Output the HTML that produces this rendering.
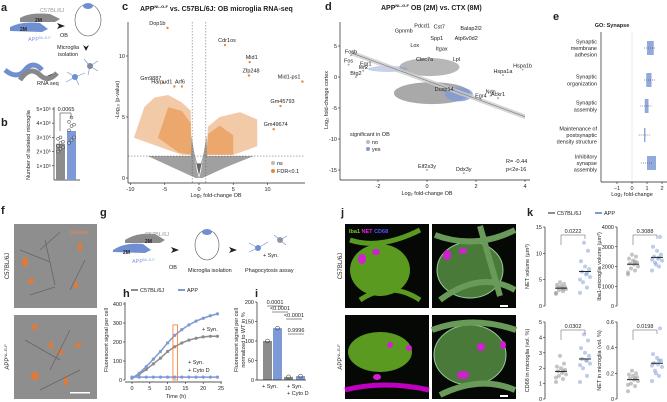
<!DOCTYPE html>
<html><head><meta charset="utf-8"><style>
html,body{margin:0;padding:0;background:#fff;}
svg{display:block;font-family:"Liberation Sans",sans-serif;}
text{fill:#222;}
</style></head><body>
<svg id="fig" width="667" height="402" viewBox="0 0 667 402" xmlns="http://www.w3.org/2000/svg">
<g font-weight="bold" font-size="11">
<text x="1" y="11">a</text><text x="1" y="126">b</text><text x="122" y="10">c</text><text x="325" y="10">d</text>
<text x="553" y="20">e</text><text x="1" y="214">f</text><text x="100" y="216">g</text><text x="123" y="297">h</text>
<text x="255" y="297">i</text><text x="341" y="216">j</text><text x="527" y="216">k</text>
</g>
<g font-size="5.5">
<path d="M20,18 q10,-6 30,-4 l10,5 l-5,3 l-35,0z" fill="#8a8a8a"/>
<text x="40" y="12" fill="#999" style="fill:#999">C57BL/6J</text><text x="35" y="22" font-weight="bold" font-size="5">2M</text>
<path d="M10,27 q12,-6 30,-4 l8,6 l-6,3 l-32,-1z" fill="#6f8fd0"/>
<text x="20" y="31" font-weight="bold" font-size="5">2M</text><text x="28" y="41" style="fill:#7b9be0">APP<tspan font-size="3.5" dy="-2">NL-G-F</tspan></text>
<path d="M57,23 l8,3 l-8,3 l2,-3z" fill="#222"/><text x="60" y="37">OB</text>
<ellipse cx="88" cy="20" rx="13" ry="16" fill="none" stroke="#555" stroke-width="0.6"/><ellipse cx="88" cy="6" rx="5" ry="3" fill="#6f8fd0"/>
<text x="57" y="49">Microglia</text><text x="58" y="56">isolation</text><path d="M83,45 l3,6 l3,-6 l-3,2z" fill="#222"/>
<text x="37" y="85">RNA seq</text><path d="M54,73 l-7,3 l7,3 l-2,-3z" fill="#222"/>
<path d="M5,70 q12,10 20,0 q8,-10 17,0" fill="none" stroke="#6f8fd0" stroke-width="5"/>
<path d="M20,80 q10,-15 20,-5 q8,8 17,-2" fill="none" stroke="#888" stroke-width="5"/>
<circle cx="75" cy="77" r="3" fill="#6f8fd0"/><circle cx="90" cy="66" r="3" fill="#888"/>
<path d="M75,77 l-8,-5 M75,77 l-9,5 M75,77 l4,8 M75,77 l10,-4 M90,66 l8,-5 M90,66 l8,5 M90,66 l-6,-7 M90,66 l-2,9" stroke="#6f8fd0" stroke-width="0.6"/>
</g>
<g id="charts"></g>
<text x="140" y="11" font-size="7" font-weight="bold">APP<tspan font-size="4" dy="-3">NL-G-F</tspan><tspan dy="3"> vs. C57BL/6J: OB microglia RNA-seq</tspan></text>
<text x="381" y="10" font-size="7" font-weight="bold">APP<tspan font-size="4" dy="-3">NL-G-F</tspan><tspan dy="3"> OB (2M) vs. CTX (8M)</tspan></text>
<text x="612" y="27" font-size="5.5" font-weight="bold" text-anchor="middle">GO: Synapse</text>
<g>
<rect x="14" y="224" width="83" height="84" fill="#8e8e8e"/><rect x="14" y="315" width="83" height="84" fill="#8e8e8e"/>
<text x="70" y="234" font-size="5.5" style="fill:#f0884a">pHrodo</text>
<g fill="#e07a3c"><ellipse cx="25" cy="262" rx="3" ry="5"/><ellipse cx="31" cy="281" rx="3" ry="3"/><ellipse cx="80" cy="247" rx="2" ry="5"/><ellipse cx="76" cy="285" rx="2" ry="4"/>
<ellipse cx="35" cy="327" rx="3" ry="3"/><ellipse cx="60" cy="352" rx="3" ry="3"/><ellipse cx="35" cy="376" rx="4" ry="4"/><ellipse cx="66" cy="381" rx="2" ry="5"/><ellipse cx="78" cy="345" rx="4" ry="2"/><ellipse cx="51" cy="345" rx="2" ry="4"/></g>
<g stroke="#666" stroke-width="0.8" fill="none"><path d="M20,250 l30,12 M45,240 l10,45 M60,232 l-20,18 M85,260 l-15,30 M30,295 l25,-8 M25,340 l35,20 M70,330 l-20,40 M40,390 l40,-20"/></g>
<rect x="70" y="392" width="20" height="1.5" fill="#fff"/>
<text x="9" y="266" font-size="6" transform="rotate(-90 9 266)" text-anchor="middle">C57BL/6J</text>
<text x="9" y="357" font-size="6" transform="rotate(-90 9 357)" text-anchor="middle">APP<tspan font-size="4" dy="-2">NL-G-F</tspan></text>
</g>
<g font-size="5.5">
<path d="M125,240 q12,-8 30,-6 l10,6 l-5,3 l-35,0z" fill="#8a8a8a"/><text x="145" y="236" style="fill:#999">C57BL/6J</text>
<text x="145" y="243" font-weight="bold" font-size="5">2M</text>
<path d="M113,250 q12,-8 30,-6 l8,6 l-6,3 l-32,-1z" fill="#6f8fd0"/><text x="123" y="254" font-weight="bold" font-size="5">2M</text>
<text x="132" y="263" style="fill:#7b9be0">APP<tspan font-size="3.5" dy="-2">NL-G-F</tspan></text>
<path d="M171,247 l8,3 l-8,3 l2,-3z" fill="#222"/><text x="169" y="269">OB</text>
<ellipse cx="207" cy="245" rx="12" ry="15" fill="none" stroke="#555" stroke-width="0.6"/><ellipse cx="207" cy="232" rx="5" ry="3" fill="#6f8fd0"/>
<text x="188" y="272">Microglia isolation</text>
<path d="M229,247 l8,3 l-8,3 l2,-3z" fill="#222"/>
<circle cx="258" cy="248" r="3" fill="#6f8fd0"/><circle cx="280" cy="240" r="3" fill="#999"/>
<path d="M258,248 l-9,-5 M258,248 l-9,4 M258,248 l10,-6 M280,240 l7,-4 M280,240 l6,5 M280,240 l-6,-5" stroke="#6f8fd0" stroke-width="0.6"/>
<text x="263" y="257">+ Syn.</text><text x="245" y="272">Phagocytosis assay</text>
</g>
<g>
<rect x="345" y="224" width="84" height="84" fill="#050805"/><rect x="432" y="224" width="84" height="84" fill="#050805"/>
<rect x="345" y="315" width="84" height="84" fill="#050805"/><rect x="432" y="315" width="84" height="84" fill="#050805"/>
<ellipse cx="380" cy="270" rx="30" ry="26" fill="#5a9a20"/><path d="M350,240 q30,10 70,-10 M360,300 q30,-20 60,0" stroke="#5a9a20" stroke-width="5" fill="none"/>
<ellipse cx="470" cy="270" rx="33" ry="28" fill="#4a7a3a" stroke="#9c9" stroke-width="1"/><path d="M435,235 q40,15 80,-5 M440,300 q40,-30 75,-10 M480,226 l20,70" stroke="#6a9a5a" stroke-width="6" fill="none"/>
<ellipse cx="380" cy="352" rx="32" ry="20" fill="#5a9a20"/><path d="M345,390 q40,-10 84,0" stroke="#c000c0" stroke-width="5" fill="none"/>
<ellipse cx="470" cy="355" rx="36" ry="30" fill="#4a7a3a" stroke="#9c9" stroke-width="1"/><path d="M432,330 q40,-15 84,0 M440,395 q40,-20 75,-5" stroke="#6a9a5a" stroke-width="6" fill="none"/>
<g fill="#d020d0"><ellipse cx="362" cy="259" rx="4" ry="5"/><ellipse cx="376" cy="252" rx="4" ry="3"/><ellipse cx="447" cy="255" rx="4" ry="5"/><ellipse cx="463" cy="251" rx="4" ry="3"/>
<ellipse cx="390" cy="345" rx="3" ry="3"/><ellipse cx="409" cy="348" rx="3" ry="3"/><ellipse cx="377" cy="377" rx="4" ry="3"/><ellipse cx="481" cy="347" rx="4" ry="4"/><ellipse cx="503" cy="345" rx="3" ry="4"/><ellipse cx="463" cy="375" rx="6" ry="4"/></g>
<text x="349" y="233" font-size="5.5" font-weight="bold" style="fill:#7c3">Iba1 <tspan style="fill:#e2e">NET</tspan> <tspan style="fill:#55f">CD68</tspan></text>
<rect x="500" y="305" width="8" height="2" fill="#fff"/><rect x="500" y="395" width="8" height="2" fill="#fff"/>
<text x="342" y="266" font-size="6" transform="rotate(-90 342 266)" text-anchor="middle">C57BL/6J</text>
<text x="342" y="357" font-size="6" transform="rotate(-90 342 357)" text-anchor="middle">APP<tspan font-size="4" dy="-2">NL-G-F</tspan></text>
</g>
</svg>
<script>
const bGroups=["C57BL/6J","APP"];
const bMeans=[2.55e5,3.45e5];
const bPoints=[[2.0e5,2.2e5,2.3e5,2.4e5,2.6e5,2.7e5,2.9e5,3.0e5],[2.6e5,2.8e5,3.0e5,3.5e5,3.8e5,3.9e5,4.1e5,4.4e5]];
const bTicks=[1e5,2e5,3e5,4e5,5e5];
const cLabels=["Dop1b","Cdr1os","Mid1","Zfp248","Mid1-ps1","Gm45793","Gm49674","Gm9887","Harpud1","Arf6"];
const cX=[-4.6,3.8,7.4,7.3,15.1,11.9,10.9,-5.2,-3.6,-2.5];
const cY=[12.3,10.9,9.5,8.4,7.9,5.9,4.0,7.8,7.5,7.5];
const cTicksX=[-10,-5,0,5,10];
const cTicksY=[0,5,10];
const dLabels=["Hspa1b","Hspa1a","Ndn","Egr4","Ackr1","Dusp14","Eif2s3y","Ddx3y","Fosb","Egr1","Fos","Btg2","Ier2"];
const dX=[3.9,3.1,2.6,2.2,2.9,0.7,0.0,1.5,-3.1,-2.5,-3.2,-2.9,-2.6];
const dY=[1.2,0.3,-3.0,-3.6,-3.4,-2.6,-15.0,-15.5,3.5,1.5,2.0,0.0,1.0];
const dTicksX=[-2,0,2,4];
const dTicksY=[5,0,-5,-10,-15];
const eCats=[["Synaptic","membrane","adhesion"],["Synaptic","organization"],["Synaptic","assembly"],["Maintenance of","postsynaptic","density structure"],["Inhibitory","synapse","assembly"]];
const eLow=[1.0,0.95,0.85,0.8,1.0];
const eHigh=[1.45,1.3,1.1,0.9,1.6];
const eMed=[1.2,1.2,0.95,0.85,1.0];
const eTicks=[-1,0,1,2];
const hTime=[0,2,4,6,8,10,12,14,16,18,20,22,24];
const hWT=[10,30,55,85,115,150,175,195,210,220,227,230,230];
const hAPP=[10,35,70,110,150,195,235,265,290,310,325,338,348];
const hCyto=[15,15,15,15,15,15,15,15,15,15,15,15,15];
const hTicksX=[0,5,10,15,20,25];
const hTicksY=[0,100,200,300,400];
const iVals=[100,133,8,10];
const iTicks=[0,50,100,150,200];
const kTitles=["NET volume (µm³)","Iba1-microglia volume (µm³)","CD68 in microglia (vol. %)","NET in microglia (vol. %)"];
const kMax=[15,4000,5,0.6];
const kTicks=[[0,5,10,15],[0,1000,2000,3000,4000],[0,1,2,3,4,5],[0,0.2,0.4,0.6]];
const kP=["0.0222","0.3088","0.0302","0.0198"];
const kWT=[[2.3,2.8,3.0,3.2,3.4,3.5,3.6,3.8,4.0,4.2,4.5,2.5,3.3],[1600,1800,1900,2000,2100,2150,2200,2300,2400,2500,2600,1700,2250],[1.1,1.3,1.5,1.6,1.7,1.8,1.9,2.0,2.1,2.3,2.8,1.4,1.8],[0.06,0.1,0.12,0.14,0.15,0.16,0.17,0.18,0.19,0.2,0.22,0.11,0.16]];
const kAPP=[[2.5,3.5,4.5,5.5,6.0,6.5,7.0,7.5,8.5,10.5,12.0,5.0,6.2],[1800,2000,2200,2300,2400,2500,2600,2800,3000,3500,2100,2350,2450],[1.1,1.5,2.0,2.3,2.5,2.6,2.8,3.0,3.3,3.8,4.2,2.2,2.5],[0.14,0.18,0.22,0.25,0.27,0.28,0.3,0.32,0.35,0.55,0.2,0.26,0.3]];

const NS="http://www.w3.org/2000/svg";
const root=document.getElementById('charts');
function el(tag,attrs,parent,txt){const e=document.createElementNS(NS,tag);for(const k in attrs)e.setAttribute(k,attrs[k]);if(txt!==undefined)e.textContent=txt;(parent||root).appendChild(e);return e;}
function lin(d0,d1,r0,r1){return v=>r0+(v-d0)*(r1-r0)/(d1-d0);}
const GRAY="#8c8c8c",BLUE="#7e9ad6",ORANGE="#e58a3c";
function yAxis(g,x,sy,ticks,fmt,y0,y1){el('line',{x1:x,x2:x,y1:y0,y2:y1,stroke:'#222','stroke-width':0.7},g);ticks.forEach(t=>{el('line',{x1:x-2,x2:x,y1:sy(t),y2:sy(t),stroke:'#222','stroke-width':0.6},g);el('text',{x:x-3,y:sy(t)+2,'font-size':5.5,'text-anchor':'end'},g,fmt(t));});}
function xAxis(g,y,sx,ticks,fmt,x0,x1){el('line',{x1:x0,x2:x1,y1:y,y2:y,stroke:'#222','stroke-width':0.7},g);ticks.forEach(t=>{el('line',{x1:sx(t),x2:sx(t),y1:y,y2:y+2,stroke:'#222','stroke-width':0.6},g);el('text',{x:sx(t),y:y+8,'font-size':5.5,'text-anchor':'middle'},g,fmt(t));});}

{const g=el('g',{});


const sy=lin(0,5e5,180,109);
yAxis(g,54,sy,bTicks,t=>(t/1e5)+"×10⁵",107,180);
el('line',{x1:54,x2:80,y1:180,y2:180,stroke:'#222','stroke-width':0.7},g);
bMeans.forEach((m,i)=>{const x=56+i*11;const r=el('rect',{x:x,y:sy(m),width:9,height:180-sy(m),fill:i?BLUE:GRAY},g);


bPoints[i].forEach((p,j)=>el('circle',{cx:x+2+(j%3)*2.5,cy:sy(p),r:1.5,fill:'#fff','fill-opacity':0.4,stroke:'#333','stroke-width':0.5},g));});
el('path',{d:'M60,131 V113 H71 V118',fill:'none',stroke:'#222','stroke-width':0.5},g);
el('text',{x:66,y:111,'font-size':5.5,'text-anchor':'middle'},g,"0.0065");
el('text',{x:30,y:145,'font-size':5.5,'text-anchor':'middle',transform:'rotate(-90 30 145)'},g,"Number of isolated microglia");}

{const g=el('g',{});


const sx=lin(0,10,199,267.5),sy=lin(0,10,178,56);
const P=a=>a.map(p=>sx(p[0])+','+sy(p[1])).join(' ');
el('polygon',{points:P([[-7.5,1.8],[-1.2,1.8],[-1.1,3.5],[-0.3,0.6],[0,0],[0.3,0.6],[1.1,3.5],[1.2,1.8],[8,1.8],[4,0.9],[0.5,0],[-0.5,0],[-4,0.9]]),fill:'#a0a0a0'},g);
el('polygon',{points:P([[-0.9,2.5],[0,0.2],[0.9,2.5],[0.3,1.2],[-0.3,1.2]]),fill:'#666'},g);
el('polygon',{points:P([[-9.5,3.3],[-8,5.8],[-6.5,6.6],[-4.5,6.8],[-2.5,6.2],[-1.2,5.5],[-1.1,1.9],[-2.5,1.9],[-4.5,2.3],[-7,2.8]]),fill:ORANGE,'fill-opacity':0.45},g);
el('polygon',{points:P([[-6,3.3],[-4.5,5.8],[-2.5,5.5],[-1.2,4.5],[-1.1,1.9],[-3,2.1]]),fill:ORANGE,'fill-opacity':0.55},g);
el('polygon',{points:P([[1.1,1.9],[1.3,4.2],[3,5.0],[6,5.4],[8.5,4.8],[8.5,2.6],[5,1.9]]),fill:ORANGE,'fill-opacity':0.45},g);
el('polygon',{points:P([[1.1,1.9],[1.3,3.6],[3,4.3],[5,3.5],[5,1.9]]),fill:ORANGE,'fill-opacity':0.55},g);
el('line',{x1:sx(-1),x2:sx(-1),y1:22,y2:183,stroke:'#555','stroke-dasharray':'1.5,1.5','stroke-width':0.5},g);
el('line',{x1:sx(1),x2:sx(1),y1:22,y2:183,stroke:'#555','stroke-dasharray':'1.5,1.5','stroke-width':0.5},g);
el('line',{x1:128,x2:305,y1:sy(1.8),y2:sy(1.8),stroke:'#555','stroke-dasharray':'1.5,1.5','stroke-width':0.5},g);
cLabels.forEach((l,i)=>{const c=el('circle',{cx:sx(cX[i]),cy:sy(cY[i]),r:1.2,fill:ORANGE},g);


el('text',{x:sx(cX[i])+(cX[i]>12?-2:(cX[i]<0?-2:2)),y:sy(cY[i])-3,'font-size':5.5,'text-anchor':cX[i]>12||cX[i]<-3?'end':'middle'},g,l);});
yAxis(g,128,sy,cTicksY,t=>t,22,183);
xAxis(g,183,sx,cTicksX,t=>t,128,305);
el('text',{x:216,y:197,'font-size':5.5,'text-anchor':'middle'},g,"Log₂ fold-change OB");
el('text',{x:119,y:100,'font-size':5.5,'text-anchor':'middle',transform:'rotate(-90 119 100)'},g,"-Log₁₀ (p-value)");
el('circle',{cx:273,cy:163,r:2,fill:'#bbb'},g);el('text',{x:277,y:165,'font-size':5.5},g,"ns");
el('circle',{cx:273,cy:171,r:2,fill:ORANGE},g);el('text',{x:277,y:173,'font-size':5.5},g,"FDR<0.1");}

{const g=el('g',{});


const sx=lin(0,2,427,476),sy=lin(0,5,77,46);
const P=a=>a.map(p=>sx(p[0])+','+sy(p[1])).join(' ');
el('ellipse',{cx:sx(0.1),cy:sy(1.6),rx:30,ry:9,fill:'#aaa','fill-opacity':0.85},g);
el('ellipse',{cx:sx(0.2),cy:sy(-2.6),rx:38,ry:11,fill:'#a0a0a0','fill-opacity':0.9},g);
el('ellipse',{cx:sx(1.3),cy:sy(-2.8),rx:14,ry:7,fill:BLUE,'fill-opacity':0.8},g);
el('ellipse',{cx:sx(-1.6),cy:sy(1.3),rx:20,ry:3,fill:BLUE,'fill-opacity':0.45},g);
el('polygon',{points:P([[-3.1,4.3],[4,-6.0],[4,-6.8],[-3.1,3.5]]),fill:'#ccc','fill-opacity':0.8},g);
el('line',{x1:sx(-3.1),y1:sy(3.9),x2:sx(4),y2:sy(-6.4),stroke:'#777','stroke-width':0.6},g);
dLabels.forEach((l,i)=>{const c=el('circle',{cx:sx(dX[i]),cy:sy(dY[i]),r:1,fill:'#aaa'},g);


el('text',{x:sx(dX[i]),y:sy(dY[i])-2,'font-size':5.5,'text-anchor':'middle'},g,l);});
[["Gpnmb",-0.95,7.2],["Pdcd1",-0.2,8.0],["Cst7",0.5,7.8],["Balap2l2",1.8,7.6],["Atp6v0d2",1.6,6.0],["Spp1",0.4,6.0],["Lox",-0.5,4.8],["Itgax",0.6,4.3],["Clec7a",-0.1,2.6],["Lpl",1.2,2.6]].forEach(a=>el('text',{x:sx(a[1]),y:sy(a[2]),'font-size':5.5,'text-anchor':'middle'},g,a[0]));
yAxis(g,340,sy,dTicksY,t=>t,22,180);
xAxis(g,180,sx,dTicksX,t=>t,340,530);
el('text',{x:427,y:195,'font-size':5.5,'text-anchor':'middle'},g,"Log₂ fold-change OB");
el('text',{x:328,y:100,'font-size':5.5,'text-anchor':'middle',transform:'rotate(-90 328 100)'},g,"Log₂ fold-change cortex");
el('text',{x:350,y:136,'font-size':5.5},g,"significant in OB");
el('circle',{cx:368,cy:142,r:2,fill:'#bbb'},g);el('text',{x:372,y:144,'font-size':5.5},g,"no");
el('circle',{cx:368,cy:149,r:2,fill:BLUE},g);el('text',{x:372,y:151,'font-size':5.5},g,"yes");
el('text',{x:506,y:163,'font-size':5.5},g,"R= -0.44");el('text',{x:506,y:171,'font-size':5.5},g,"p<2e-16");}

{const g=el('g',{});


const sx=lin(0,1,632,647);const yc=[48,80,106,135,163];
el('line',{x1:sx(0),x2:sx(0),y1:32,y2:182,stroke:'#ccc','stroke-width':0.4},g);
eCats.forEach((c,i)=>{const r=el('rect',{x:sx(eLow[i]),y:yc[i]-7,width:sx(eHigh[i])-sx(eLow[i]),height:14,fill:BLUE,'fill-opacity':0.85},g);


el('line',{x1:sx(eMed[i]-0.4),x2:sx(eMed[i]+0.4),y1:yc[i],y2:yc[i],stroke:'#333','stroke-width':0.5,'stroke-dasharray':'1,1'},g);
c.forEach((s,j)=>el('text',{x:597,y:yc[i]-(c.length-1)*3.3+j*6.6+2,'font-size':5.5,'text-anchor':'end'},g,s));});
yAxis(g,601,()=>0,[],t=>t,32,182);
xAxis(g,182,sx,eTicks,t=>t===-1?"−1":t,601,667);
el('text',{x:632,y:196,'font-size':5.5,'text-anchor':'middle'},g,"Log₂ fold-change");}

{const g=el('g',{});


const sx=lin(0,25,132,221),sy=lin(0,400,380,304);
[[hWT,GRAY,'line-wt'],[hAPP,BLUE,'line-app'],[hCyto,BLUE,'line-cytod']].forEach(s=>{const p=el('polyline',{points:hTime.map((t,i)=>sx(t)+','+sy(s[0][i])).join(' '),fill:'none',stroke:s[1],'stroke-width':1.5},g);


hTime.forEach((t,i)=>el('circle',{cx:sx(t),cy:sy(s[0][i]),r:1.6,fill:s[1]},g));});
el('rect',{x:sx(11.5),y:sy(290),width:sx(12.8)-sx(11.5),height:sy(0)-sy(290),fill:'none',stroke:'#f07830','stroke-width':0.8},g);
yAxis(g,125,sy,hTicksY,t=>t,302,380);xAxis(g,382,sx,hTicksX,t=>t,125,222);
el('text',{x:176,y:398,'font-size':5.5,'text-anchor':'middle'},g,"Time (h)");
el('text',{x:108,y:340,'font-size':5.5,'text-anchor':'middle',transform:'rotate(-90 108 340)'},g,"Fluorescent signal per cell");
el('text',{x:202,y:331,'font-size':5.5},g,"+ Syn.");el('text',{x:188,y:364,'font-size':5.5},g,"+ Syn.");el('text',{x:188,y:372,'font-size':5.5},g,"+ Cyto D");
el('rect',{x:131,y:289,width:7,height:2,fill:GRAY},g);el('text',{x:140,y:292,'font-size':5.5},g,"C57BL/6J");
el('rect',{x:178,y:289,width:7,height:2,fill:BLUE},g);el('text',{x:187,y:292,'font-size':5.5},g,"APP");}

{const g=el('g',{});


const sy=lin(0,200,380,302);const xs=[263,273,284,296];
iVals.forEach((v,i)=>{const r=el('rect',{x:xs[i],y:sy(v),width:9,height:sy(0)-sy(v),fill:i%2?BLUE:GRAY},g);


el('circle',{cx:xs[i]+4.5,cy:sy(v),r:2,fill:'none',stroke:'#333','stroke-width':0.5},g);});
yAxis(g,257,sy,iTicks,t=>t,302,380);el('line',{x1:257,x2:306,y1:380,y2:380,stroke:'#222','stroke-width':0.7},g);
[["0.0001",267,305],["<0.0001",272,311],["<0.0001",286,318],["0.9996",288,333]].forEach(a=>{el('text',{x:a[1]+8,y:a[2]-1,'font-size':5.5,'text-anchor':'middle'},g,a[0]);el('line',{x1:a[1],x2:a[1]+16,y1:a[2]+1,y2:a[2]+1,stroke:'#222','stroke-width':0.5},g);});
el('text',{x:262,y:388,'font-size':5.5},g,"+ Syn.");el('text',{x:287,y:388,'font-size':5.5},g,"+ Syn.");el('text',{x:287,y:395,'font-size':5.5},g,"+ Cyto D");
el('text',{x:238,y:340,'font-size':5.5,'text-anchor':'middle',transform:'rotate(-90 238 340)'},g,"Fluorescent signal per cell");
el('text',{x:245,y:340,'font-size':5.5,'text-anchor':'middle',transform:'rotate(-90 245 340)'},g,"normalized to WT in %");}

{const pos=[[545,306,227],[617,306,227],[545,399,322],[617,399,322]];
el('rect',{x:548,y:212,width:7,height:2,fill:GRAY});el('text',{x:557,y:215,'font-size':5.5},undefined,"C57BL/6J");
el('rect',{x:595,y:212,width:7,height:2,fill:BLUE});el('text',{x:604,y:215,'font-size':5.5},undefined,"APP");
kTitles.forEach((t,k)=>{const g=el('g',{});


const [ax,y0,y1]=pos[k];const sy=lin(0,kMax[k],y0,y1);
yAxis(g,ax,sy,kTicks[k],v=>v,y1,y0);
[[kWT[k],GRAY,ax+16],[kAPP[k],BLUE,ax+40]].forEach(s=>{s[0].forEach((v,j)=>el('circle',{cx:s[2]+((j*7)%11)-5,cy:sy(v),r:2,fill:s[1],'fill-opacity':0.5},g));
const m=s[0].reduce((a,b)=>a+b,0)/s[0].length;
const ml=el('line',{x1:s[2]-6,x2:s[2]+6,y1:sy(m),y2:sy(m),stroke:'#222','stroke-width':1},g);

});
el('path',{d:`M${ax+16},${y1+18} V${y1+8} H${ax+40} V${y1+12}`,fill:'none',stroke:'#555','stroke-width':0.5},g);
el('text',{x:ax+28,y:y1+6,'font-size':5.5,'text-anchor':'middle'},g,kP[k]);
const lx=ax-16,ly=(y0+y1)/2;el('text',{x:lx,y:ly,'font-size':5.5,'text-anchor':'middle',transform:`rotate(-90 ${lx} ${ly})`},g,t);});}
</script>
</body></html>
